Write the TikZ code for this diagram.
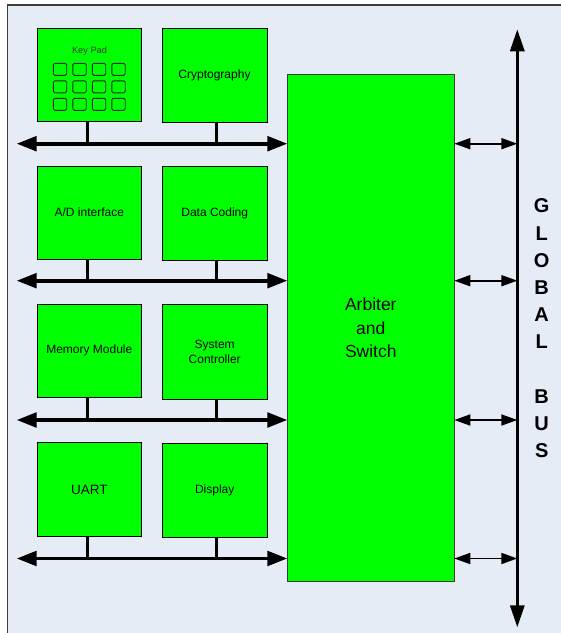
\documentclass[tikz,border=0pt]{standalone}
\usepackage{fontspec}
\setmainfont{Liberation Sans}
\usetikzlibrary{arrows.meta,calc}
\definecolor{bgblue}{RGB}{230,236,246}
\definecolor{chipgreen}{RGB}{0,255,0}
\definecolor{framegray}{RGB}{60,60,60}
\definecolor{keytext}{RGB}{50,60,50}
\begin{document}
\begin{tikzpicture}[x=1pt,y=-1pt,
  box/.style={draw=black, line width=0.9pt, fill=chipgreen, inner sep=0pt, outer sep=0pt,
              align=center, font=\fontsize{12}{15.7}\selectfont},
  bus/.style={line width=3.6pt, {Triangle[length=20pt,width=14.6pt]}-{Triangle[length=20pt,width=14.6pt]}},
  stub/.style={line width=3pt},
  link/.style={line width=1.8pt, {Triangle[length=16pt,width=11pt]}-{Triangle[length=16pt,width=11pt]}},
  gbus/.style={line width=3.2pt, {Triangle[length=22pt,width=14pt]}-{Triangle[length=22pt,width=14pt]}},
  keycap/.style={draw=black!85, line width=0.9pt, rounded corners=1.5pt, fill=chipgreen}
]
\useasboundingbox (0,0) rectangle (561,633);
% background panel
\fill[white] (0,0) rectangle (561,633);
\fill[bgblue] (7.3,5) rectangle (561,633);
\draw[framegray, line width=1.4pt] (7.3,633) -- (7.3,5) -- (561,5);

% blocks
\node[box, minimum width=103.8pt, minimum height=93.4pt] (kp) at (89.6,75) {};
\node[font=\fontsize{9.2}{10}\selectfont, text=keytext, inner sep=0pt] (kpl) at (89.5,51) {Key Pad};
\foreach \i in {0,...,3}
  \foreach \j in {0,1,2}
    \draw[keycap] (53.3+19.5*\i, 63.3+17.5*\j) rectangle ++(13.4,12);
\node[box, minimum width=105pt, minimum height=94pt] (cr) at (214.5,75.3) {Cryptography};

\node[box, minimum width=103.5pt, minimum height=93pt] (ad) at (89.3,212.5) {A/D interface};
\node[box, minimum width=104.7pt, minimum height=94pt] (dc) at (214.7,213) {Data Coding};

\node[box, minimum width=104pt, minimum height=93.3pt] (mm) at (89.3,350.7) {Memory Module};
\node[box, minimum width=104.7pt, minimum height=94.6pt] (sc) at (214.7,352) {System\\Controller};

\node[box, minimum width=104pt, minimum height=94pt, font=\fontsize{13.5}{16}\selectfont] (ua) at (89.3,489.7) {UART};
\node[box, minimum width=104.7pt, minimum height=94.4pt] (di) at (214.7,490.5) {Display};

\node[box, draw=framegray, minimum width=167pt, minimum height=507.7pt,
      font=\fontsize{17.5}{23.5}\selectfont] (arb) at (370.8,327.8) {Arbiter\\and\\Switch};

% global bus
\coordinate (gt) at (517.3,29.3);
\coordinate (gb) at (517.3,627.3);
\draw[gbus] (gt) -- (gb);
\node[anchor=north, inner sep=0pt, align=center,
      font=\bfseries\fontsize{20}{27.2}\selectfont] (gbl) at (541.7,198.8)
  {G\\L\\O\\B\\A\\L\\[27.2pt]B\\U\\S};

% local buses
\coordinate (b1) at (16.7,143.7);
\coordinate (b2) at (16.7,280.7);
\coordinate (b3) at (16.7,420);
\coordinate (b4) at (16.7,558.5);
\foreach \b in {b1,b2,b3,b4}{
  \draw[bus] (\b) -- (\b -| arb.west);
  \draw[link] (\b -| arb.east) -- (\b -| gt);
}
% stubs
\draw[stub] ([xshift=-2.3pt]kp.south) -- ([xshift=-2.3pt]kp.south |- b1);
\draw[stub] ([xshift=2.2pt]cr.south) -- ([xshift=2.2pt]cr.south |- b1);
\draw[stub] ([xshift=-2pt]ad.south) -- ([xshift=-2pt]ad.south |- b2);
\draw[stub] ([xshift=1.5pt]dc.south) -- ([xshift=1.5pt]dc.south |- b2);
\draw[stub] ([xshift=-2pt]mm.south) -- ([xshift=-2pt]mm.south |- b3);
\draw[stub] ([xshift=1.5pt]sc.south) -- ([xshift=1.5pt]sc.south |- b3);
\draw[stub] ([xshift=-2pt]ua.south) -- ([xshift=-2pt]ua.south |- b4);
\draw[stub] ([xshift=1.5pt]di.south) -- ([xshift=1.5pt]di.south |- b4);
\end{tikzpicture}
\end{document}
